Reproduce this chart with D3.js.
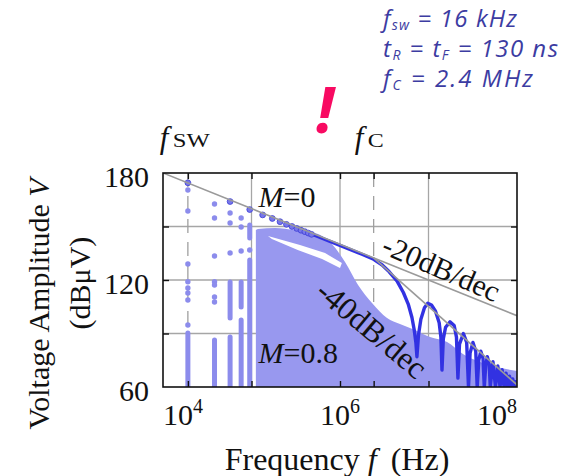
<!DOCTYPE html>
<html>
<head>
<meta charset="utf-8">
<script src="https://cdn.jsdelivr.net/npm/d3@7"></script>
<style>
body { margin: 0; background: #fff; }
svg { display: block; }
</style>
</head>
<body>
<div id="chart"></div>
<script>
// axis ticks
const xLabelTicks = [1e4, 1e6, 1e8];
const yLabelTicks = [60, 120, 180];
const xGrid = [1e5, 1e6, 1e7];
const yGrid = [90, 120, 150];
const fsw = 1.91e4;
const fc = 2.4e6;

// asymptotes
const slope20Freq = [1e4, 1e8];
const slope20Db = [180, 100];
const slope40Freq = [2.4e6, 1e8];
const slope40Db = [132.4, 61.2];

// M = 0 : harmonic dots (low frequency)
const m0DotFreq = [19.1e3, 57.3e3, 95.5e3, 133.7e3, 171.9e3, 210e3, 248e3, 287e3, 325e3, 363e3, 401e3, 439e3, 477e3];
const m0DotDb = [174.5, 164, 159.5, 156.5, 154.5, 152.7, 151.2, 150, 148.9, 147.9, 147.1, 146.3, 145.6];

// M = 0 : trace above 500 kHz (lobes and nulls)
const m0LineFreq = [5e5, 1e6, 1.8e6, 2.4e6, 3e6, 3.6e6, 4.4e6, 5.2e6, 5.9e6, 6.5e6, 6.9e6, 7.2e6, 7.4e6,
  7.7e6, 8.2e6, 9e6, 9.8e6, 10.8e6, 12e6, 13.2e6, 13.8e6, 14.2e6,
  14.7e6, 15.6e6, 17.5e6, 19.5e6, 20.7e6, 21.5e6,
  22.4e6, 24.8e6, 27e6, 28.3e6, 29.5e6, 31.8e6, 34.2e6, 35.5e6,
  37e6, 39e6, 41.3e6, 42.7e6, 44.3e6, 46.2e6, 48.5e6, 49.9e6,
  53.5e6, 57.1e6, 60.7e6, 64.3e6, 67.9e6, 71.5e6, 75.1e6, 78.7e6,
  82.3e6, 85.9e6, 89.5e6, 93.1e6, 96.7e6, 1e8];
const m0LineDb = [145.4, 139.4, 134.3, 131.6, 128.4, 124.6, 119.5, 113, 106.5, 99, 92, 85, 77,
  89, 98, 104.5, 107, 106, 102.5, 96, 88, 69.5,
  87, 93.5, 96.5, 94.5, 88, 65,
  84, 90, 85, 60, 79, 85, 80, 60,
  75, 80.1, 76, 60, 72, 77, 73, 60,
  74.2, 60, 71.8, 60, 69.7, 60, 67.8, 60,
  66, 60, 64.5, 60, 63, 62];

// M = 0.8 : low-frequency harmonic columns
const m08ColFreq = [19.1e3, 38.2e3, 57.3e3, 76.4e3, 95.5e3];
const m08ColDots = [
  [170.5, 158.7, 129, 119, 115.5, 112.7, 108.8, 94.8],
  [162.6, 154.8, 133.5, 119, 117.2, 110.5, 107.7],
  [157.6, 152, 135.1],
  [154.8, 149.7, 136.3],
  [136.8]
];
const m08ColBars = [
  [[60, 90.3]],
  [[60, 86.4]],
  [[98.7, 118.9], [60, 88]],
  [[104.9, 118.9], [60, 97.6]],
  [[143.6, 150.8], [60, 131.2]]
];

// M = 0.8 : upper edge of the dense harmonic cloud
const m08EdgeFreq = [112e3, 118e3, 185e3, 310e3, 522e3, 771e3, 1.14e6, 1.6e6, 2.3e6, 3.4e6, 4.76e6, 7.03e6, 10.4e6, 16.2e6, 24.5e6, 38.2e6, 59.4e6, 1e8];
const m08EdgeDb = [148, 148.6, 149.2, 148, 146.4, 141.3, 130.1, 117.2, 107.1, 98.7, 95.3, 92, 88, 85.2, 78.5, 74, 71.2, 69];
// M = 0.8 : empty streak inside the cloud
const m08GapFreq = [153.5e3, 353e3, 678e3, 1.05e6, 1e6, 627e3, 333e3, 170e3];
const m08GapDb = [144.7, 139.6, 135.1, 129.5, 126.7, 131.8, 136.8, 143];

// annotation
const noteLines = [
  [["f", ""], ["sw", "sub"], [" = 16 kHz", ""]],
  [["t", ""], ["R", "sub"], [" = t", ""], ["F", "sub"], [" = 130 ns", ""]],
  [["f", ""], ["C", "sub"], [" = 2.4 MHz", ""]]
];
const noteWidths = [134, 175, 150];

const width = 566, height = 476;
const margin = { top: 173, right: 49, bottom: 89, left: 163 };
const serif = "'Liberation Serif', 'Times New Roman', serif";

const svg = d3.select("#chart").append("svg")
  .attr("width", width).attr("height", height)
  .style("background", "#fff");

const x = d3.scaleLog().domain([1e4, 1e8]).range([margin.left, width - margin.right]);
const y = d3.scaleLinear().domain([60, 180]).range([height - margin.bottom, margin.top]);

svg.append("defs").append("clipPath").attr("id", "plot")
  .append("rect")
  .attr("x", x(1e4)).attr("y", y(180))
  .attr("width", x(1e8) - x(1e4)).attr("height", y(60) - y(180));

// grid
svg.append("g").selectAll("line").data(xGrid).join("line")
  .attr("x1", d => x(d)).attr("x2", d => x(d))
  .attr("y1", y(180)).attr("y2", y(60))
  .attr("stroke", "#a6a6a6").attr("stroke-width", 1.3);
svg.append("g").selectAll("line").data(yGrid).join("line")
  .attr("x1", x(1e4)).attr("x2", x(1e8))
  .attr("y1", d => y(d)).attr("y2", d => y(d))
  .attr("stroke", "#a6a6a6").attr("stroke-width", 1.3);

// fsw / fc markers
svg.append("g").selectAll("line").data([fsw, fc]).join("line")
  .attr("x1", d => x(d)).attr("x2", d => x(d))
  .attr("y1", y(180)).attr("y2", y(60))
  .attr("stroke", "#a0a0a0").attr("stroke-width", 1.3)
  .attr("stroke-dasharray", "14,9");

const plot = svg.append("g").attr("clip-path", "url(#plot)");

// M = 0.8 cloud
const cloudColor = "#9898ef";
const cloud = d3.area()
  .x(d => x(d[0])).y0(y(60)).y1(d => y(d[1]))
  .curve(d3.curveMonotoneX);
plot.append("path")
  .datum(m08EdgeFreq.map((f, i) => [f, m08EdgeDb[i]]))
  .attr("d", cloud)
  .attr("fill", cloudColor);
plot.append("path")
  .datum(m08GapFreq.map((f, i) => [f, m08GapDb[i]]))
  .attr("d", d3.line().x(d => x(d[0])).y(d => y(d[1])).curve(d3.curveLinearClosed))
  .attr("fill", "#fff");

m08ColFreq.forEach((f, i) => {
  plot.append("g").selectAll("line").data(m08ColBars[i]).join("line")
    .attr("x1", x(f)).attr("x2", x(f))
    .attr("y1", d => y(d[0])).attr("y2", d => y(d[1]))
    .attr("stroke", "#8c8cec").attr("stroke-width", 5)
    .attr("stroke-linecap", "round");
  plot.append("g").selectAll("circle").data(m08ColDots[i]).join("circle")
    .attr("cx", x(f)).attr("cy", d => y(d)).attr("r", 2.7)
    .attr("fill", "#8c8cec");
});

// M = 0 trace
const line = d3.line().x(d => x(d[0])).y(d => y(d[1]));
plot.append("path")
  .datum(m0LineFreq.map((f, i) => [f, m0LineDb[i]]))
  .attr("d", line)
  .attr("fill", "none")
  .attr("stroke", "#3232e2").attr("stroke-width", 3.4)
  .attr("stroke-linejoin", "round");
plot.append("g").selectAll("circle").data(m0DotFreq).join("circle")
  .attr("cx", d => x(d)).attr("cy", (d, i) => y(m0DotDb[i])).attr("r", 2.9)
  .attr("fill", "#7777ea").attr("stroke", "#3c3cd6").attr("stroke-width", 0.8);

// asymptotes
plot.append("path")
  .datum(slope20Freq.map((f, i) => [f, slope20Db[i]]))
  .attr("d", line).attr("fill", "none")
  .attr("stroke", "#9a9a9a").attr("stroke-width", 1.6);
plot.append("path")
  .datum(slope40Freq.map((f, i) => [f, slope40Db[i]]))
  .attr("d", line).attr("fill", "none")
  .attr("stroke", "#9a9a9a").attr("stroke-width", 1.6);

// frame
svg.append("rect")
  .attr("x", x(1e4)).attr("y", y(180))
  .attr("width", x(1e8) - x(1e4)).attr("height", y(60) - y(180))
  .attr("fill", "none").attr("stroke", "#111").attr("stroke-width", 1.6);

// inward ticks
const xTickVals = [fsw, 1e5, 1e6, fc, 1e7];
svg.append("g").attr("transform", `translate(0,${y(60)})`)
  .call(d3.axisBottom(x).tickValues(xTickVals).tickSize(-6).tickFormat(""))
  .call(g => g.select(".domain").remove());
svg.append("g").attr("transform", `translate(0,${y(180)})`)
  .call(d3.axisTop(x).tickValues(xTickVals).tickSize(-6).tickFormat(""))
  .call(g => g.select(".domain").remove());
svg.append("g").attr("transform", `translate(${x(1e4)},0)`)
  .call(d3.axisLeft(y).tickValues(yGrid).tickSize(-6).tickFormat(""))
  .call(g => g.select(".domain").remove());
svg.append("g").attr("transform", `translate(${x(1e8)},0)`)
  .call(d3.axisRight(y).tickValues(yGrid).tickSize(-6).tickFormat(""))
  .call(g => g.select(".domain").remove());
svg.selectAll(".tick line").attr("stroke", "#111").attr("stroke-width", 1.4);

// y tick labels
svg.append("g").selectAll("text").data(yLabelTicks).join("text")
  .attr("x", x(1e4) - 14).attr("y", d => y(d) + 14)
  .attr("text-anchor", "end")
  .style("font-family", serif).style("font-size", "30px").attr("fill", "#111")
  .text(d => d);

// x tick labels (10^n)
const anchors = ["start", "middle", "end"];
const xl = svg.append("g").selectAll("text").data(xLabelTicks).join("text")
  .attr("x", d => x(d)).attr("y", y(60) + 38)
  .attr("text-anchor", (d, i) => anchors[i])
  .style("font-family", serif).style("font-size", "30px").attr("fill", "#111");
xl.append("tspan").text("10");
xl.append("tspan").attr("dy", -12).style("font-size", "20px").text(d => Math.round(Math.log10(d)));

// axis titles
const yt = svg.append("text")
  .attr("transform", `translate(49,${(y(60) + y(180)) / 2 + 24}) rotate(-90)`)
  .attr("text-anchor", "middle")
  .style("font-family", serif).style("font-size", "30px").attr("fill", "#111");
yt.append("tspan").text("Voltage Amplitude ");
yt.append("tspan").style("font-style", "italic").text("V");
svg.append("text")
  .attr("transform", `translate(90,${(y(60) + y(180)) / 2 + 3}) rotate(-90)`)
  .attr("text-anchor", "middle")
  .style("font-family", serif).style("font-size", "30px").attr("fill", "#111")
  .text("(dBμV)");

const xt = svg.append("text")
  .attr("x", (x(1e4) + x(1e8)) / 2 - 3).attr("y", height - 6)
  .attr("text-anchor", "middle")
  .style("font-family", serif).style("font-size", "32px").attr("fill", "#111");
xt.append("tspan").text("Frequency ");
xt.append("tspan").style("font-style", "italic").text("f");
xt.append("tspan").attr("dx", 14).text("(Hz)");

// fsw / fc labels above the plot
[[fsw, "SW", -28, 37], [fc, "C", -19, 16]].forEach(([f, sub, dx, w]) => {
  const g = svg.append("g").attr("transform", `translate(${x(f) + dx},148)`);
  g.append("text")
    .style("font-family", serif).style("font-size", "31px").style("font-style", "italic")
    .attr("fill", "#111").text("f");
  g.append("text").attr("x", 13).attr("y", -1)
    .attr("textLength", w).attr("lengthAdjust", "spacingAndGlyphs")
    .style("font-family", serif).style("font-size", "18px")
    .attr("fill", "#111").text(sub);
});

// in-plot labels
function mLabel(px, py, rest) {
  const t = svg.append("text").attr("x", px).attr("y", py)
    .style("font-family", serif).style("font-size", "30px").attr("fill", "#111");
  t.append("tspan").style("font-style", "italic").text("M");
  t.append("tspan").text(rest);
}
mLabel(x(1.2e5), y(161), "=0");
mLabel(x(1.2e5), y(73.5), "=0.8");

svg.append("text")
  .attr("transform", `translate(${x(1.4e7)},${y(126.8)}) rotate(23.5)`)
  .attr("text-anchor", "middle").attr("dominant-baseline", "central")
  .style("font-family", serif).style("font-size", "30px").attr("fill", "#111")
  .text("-20dB/dec");
svg.append("text")
  .attr("transform", `translate(${x(2.3e6)},${y(92.5)}) rotate(40)`)
  .attr("text-anchor", "middle").attr("dominant-baseline", "central")
  .style("font-family", serif).style("font-size", "32px").attr("fill", "#111")
  .text("-40dB/dec");

// parameter annotation
const note = svg.append("g")
  .style("font-family", "'Open Sans', sans-serif").style("font-style", "italic")
  .style("font-size", "24px").attr("fill", "#3c3ca2");
noteLines.forEach((parts, i) => {
  const t = note.append("text").attr("x", 383).attr("y", 27 + i * 30)
    .attr("textLength", noteWidths[i]).attr("lengthAdjust", "spacing");
  let down = false;
  parts.forEach(([s, kind]) => {
    const sp = t.append("tspan").text(s);
    if (kind === "sub") { sp.attr("dy", 3).style("font-size", "14px"); down = true; }
    else if (down) { sp.attr("dy", -3); down = false; }
  });
});

// exclamation mark
svg.append("text").attr("x", 325).attr("y", 133)
  .attr("text-anchor", "middle")
  .style("font-family", "'Open Sans', sans-serif").style("font-weight", "bold")
  .style("font-style", "italic").style("font-size", "64px")
  .attr("fill", "#f80a62").text("!");
</script>
</body>
</html>
